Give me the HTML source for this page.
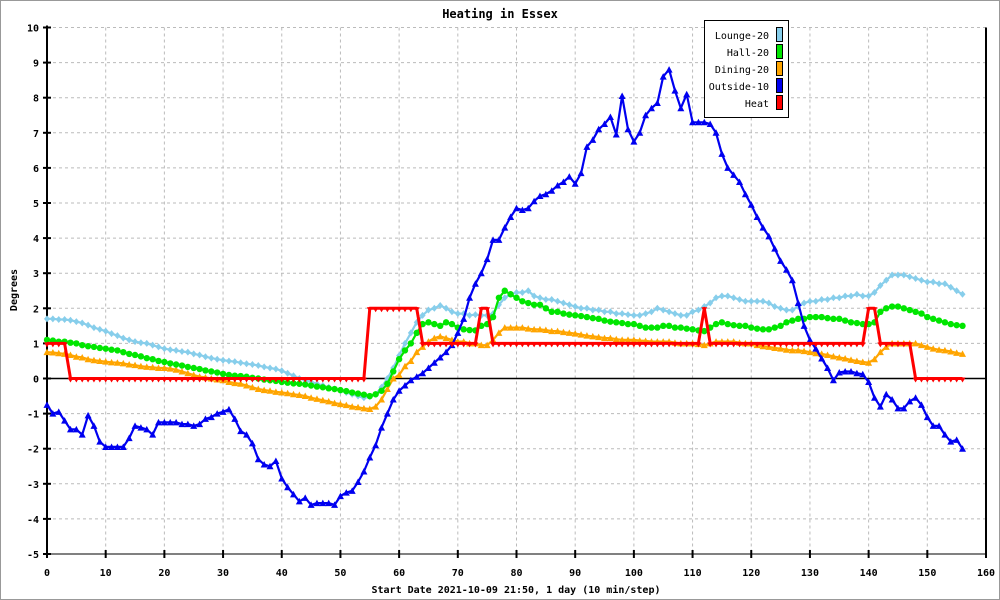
<!DOCTYPE html>
<html><head><meta charset="utf-8"><style>
html,body{margin:0;padding:0;background:#fff}
svg{display:block}
text{font-family:"DejaVu Sans Mono","Liberation Mono",monospace}
</style></head><body>
<svg id="chart" width="1000" height="600" viewBox="0 0 1000 600" xmlns="http://www.w3.org/2000/svg">
<rect x="0.5" y="0.5" width="999" height="599" fill="#fff" stroke="#999"/>
<text x="500" y="18" text-anchor="middle" font-size="12" font-weight="bold">Heating in Essex</text>
<g id="grid"></g>
<g id="axes"></g>
<g id="series"></g>
<text x="17" y="290" font-size="10" font-weight="bold" text-anchor="middle" transform="rotate(-90 17 290)">Degrees</text>
<text x="516" y="593" font-size="10" font-weight="bold" text-anchor="middle">Start Date 2021-10-09 21:50, 1 day (10 min/step)</text>
<g id="legend"></g>
</svg>
<script>
const xTicks=[0,10,20,30,40,50,60,70,80,90,100,110,120,130,140,150,160];
const yTicks=[-5,-4,-3,-2,-1,0,1,2,3,4,5,6,7,8,9,10];
const seriesNames=["Lounge-20","Hall-20","Dining-20","Outside-10","Heat"];
const lounge=[1.7,1.7,1.68,1.68,1.66,1.62,1.58,1.52,1.45,1.4,
1.35,1.28,1.22,1.15,1.1,1.05,1.02,1.0,0.95,0.9,
0.85,0.82,0.8,0.77,0.75,0.7,0.67,0.62,0.58,0.55,
0.52,0.5,0.48,0.45,0.42,0.4,0.37,0.33,0.3,0.27,
0.22,0.15,0.08,0.0,-0.05,-0.1,-0.15,-0.2,-0.25,-0.3,
-0.35,-0.4,-0.45,-0.5,-0.55,-0.52,-0.45,-0.25,0.0,0.3,
0.65,1.0,1.3,1.6,1.8,1.95,2.0,2.08,2.0,1.9,
1.85,1.85,1.8,1.82,1.8,1.8,1.85,2.1,2.3,2.4,
2.45,2.45,2.5,2.35,2.3,2.25,2.25,2.2,2.15,2.1,
2.05,2.0,2.0,1.95,1.95,1.9,1.9,1.85,1.85,1.82,
1.8,1.8,1.85,1.9,2.0,1.95,1.9,1.85,1.8,1.8,
1.9,1.95,2.05,2.15,2.3,2.35,2.35,2.3,2.25,2.2,
2.2,2.2,2.2,2.15,2.05,2.0,1.95,1.95,2.05,2.15,
2.2,2.2,2.25,2.25,2.3,2.3,2.35,2.35,2.4,2.35,
2.35,2.45,2.65,2.8,2.95,2.95,2.95,2.9,2.85,2.8,
2.75,2.75,2.7,2.7,2.6,2.5,2.4];
const hall=[1.1,1.08,1.05,1.05,1.02,1.0,0.95,0.92,0.9,0.87,
0.85,0.82,0.8,0.75,0.7,0.67,0.63,0.58,0.55,0.5,
0.47,0.43,0.4,0.37,0.33,0.3,0.27,0.23,0.2,0.17,
0.13,0.1,0.08,0.07,0.05,0.02,0.0,-0.03,-0.05,-0.07,
-0.1,-0.12,-0.14,-0.15,-0.17,-0.2,-0.23,-0.25,-0.28,-0.3,
-0.33,-0.36,-0.4,-0.43,-0.46,-0.5,-0.45,-0.35,-0.15,0.2,
0.55,0.8,1.0,1.3,1.55,1.6,1.55,1.5,1.6,1.55,
1.45,1.4,1.38,1.37,1.5,1.55,1.75,2.3,2.5,2.4,
2.3,2.2,2.15,2.1,2.1,2.0,1.9,1.9,1.85,1.82,
1.8,1.78,1.75,1.72,1.7,1.65,1.62,1.6,1.58,1.55,
1.55,1.5,1.45,1.45,1.45,1.5,1.5,1.45,1.45,1.42,
1.4,1.37,1.35,1.45,1.55,1.6,1.55,1.52,1.5,1.5,
1.45,1.42,1.4,1.4,1.45,1.5,1.6,1.65,1.7,1.7,
1.75,1.75,1.75,1.72,1.7,1.7,1.65,1.6,1.58,1.55,
1.55,1.6,1.9,2.0,2.05,2.05,2.0,1.95,1.9,1.85,
1.75,1.7,1.65,1.6,1.55,1.52,1.5];
const dining=[0.75,0.74,0.72,0.7,0.67,0.62,0.6,0.55,0.52,0.5,
0.48,0.46,0.45,0.43,0.4,0.38,0.35,0.33,0.32,0.3,
0.3,0.28,0.25,0.2,0.15,0.1,0.05,0.03,0.0,-0.03,
-0.05,-0.1,-0.13,-0.15,-0.2,-0.25,-0.3,-0.33,-0.35,-0.38,
-0.4,-0.42,-0.45,-0.47,-0.5,-0.55,-0.58,-0.62,-0.65,-0.7,
-0.73,-0.76,-0.8,-0.82,-0.85,-0.87,-0.8,-0.6,-0.3,0.0,
0.1,0.35,0.5,0.75,0.9,1.05,1.15,1.2,1.15,1.1,
1.05,1.05,1.0,1.0,0.95,0.95,1.1,1.3,1.45,1.45,
1.45,1.45,1.42,1.4,1.4,1.38,1.35,1.35,1.32,1.3,
1.28,1.25,1.22,1.2,1.18,1.15,1.15,1.12,1.1,1.1,
1.1,1.08,1.07,1.05,1.05,1.05,1.05,1.02,1.0,1.0,
1.0,0.98,0.95,1.0,1.05,1.05,1.05,1.05,1.02,1.0,
1.0,0.95,0.92,0.9,0.87,0.85,0.82,0.8,0.8,0.78,
0.75,0.72,0.7,0.67,0.63,0.6,0.57,0.53,0.5,0.47,
0.45,0.55,0.75,0.9,1.0,1.0,1.0,1.0,1.0,0.95,
0.9,0.85,0.82,0.8,0.77,0.73,0.7];
const outside=[-0.75,-1.0,-0.95,-1.2,-1.45,-1.45,-1.6,-1.05,-1.35,-1.8,
-1.95,-1.95,-1.95,-1.95,-1.7,-1.35,-1.4,-1.45,-1.6,-1.25,
-1.25,-1.25,-1.25,-1.3,-1.3,-1.35,-1.3,-1.15,-1.1,-1.0,
-0.95,-0.88,-1.15,-1.5,-1.6,-1.85,-2.3,-2.45,-2.5,-2.35,
-2.85,-3.1,-3.3,-3.5,-3.4,-3.6,-3.55,-3.55,-3.55,-3.6,
-3.35,-3.25,-3.2,-2.95,-2.65,-2.25,-1.9,-1.4,-1.0,-0.6,
-0.35,-0.2,-0.05,0.05,0.15,0.3,0.45,0.6,0.75,0.95,
1.3,1.7,2.3,2.7,3.0,3.4,3.95,3.95,4.3,4.6,
4.85,4.8,4.85,5.05,5.2,5.25,5.35,5.5,5.6,5.75,
5.55,5.85,6.6,6.8,7.1,7.25,7.45,6.95,8.05,7.1,
6.75,7.0,7.5,7.7,7.85,8.6,8.8,8.2,7.7,8.1,
7.3,7.3,7.3,7.25,7.0,6.4,6.0,5.8,5.6,5.25,
4.95,4.6,4.3,4.05,3.7,3.35,3.1,2.8,2.15,1.5,
1.1,0.85,0.57,0.3,-0.05,0.17,0.2,0.2,0.15,0.12,
-0.1,-0.55,-0.8,-0.45,-0.6,-0.85,-0.85,-0.65,-0.55,-0.75,
-1.1,-1.35,-1.35,-1.6,-1.8,-1.75,-2.0];
const heat=[1,1,1,1,0,0,0,0,0,0,
0,0,0,0,0,0,0,0,0,0,
0,0,0,0,0,0,0,0,0,0,
0,0,0,0,0,0,0,0,0,0,
0,0,0,0,0,0,0,0,0,0,
0,0,0,0,0,2,2,2,2,2,
2,2,2,2,1,1,1,1,1,1,
1,1,1,1,2,2,1,1,1,1,
1,1,1,1,1,1,1,1,1,1,
1,1,1,1,1,1,1,1,1,1,
1,1,1,1,1,1,1,1,1,1,
1,1,2,1,1,1,1,1,1,1,
1,1,1,1,1,1,1,1,1,1,
1,1,1,1,1,1,1,1,1,1,
2,2,1,1,1,1,1,1,0,0,
0,0,0,0,0,0,0];

const NS="http://www.w3.org/2000/svg";
const X0=47,X1=986,Y0=554,Y1=27.5;
const xs=v=>X0+(v-0)/(160-0)*(X1-X0);
const ys=v=>Y0-(v+5)/(15)*(Y0-Y1);
function mk(tag,attrs,parent){const e=document.createElementNS(NS,tag);for(const k in attrs)e.setAttribute(k,attrs[k]);parent.appendChild(e);return e;}
const grid=document.getElementById('grid'),axes=document.getElementById('axes'),ser=document.getElementById('series'),leg=document.getElementById('legend');
mk('rect',{x:X0,y:Y1,width:X1-X0,height:Y0-Y1,fill:'#fff'},grid);
xTicks.forEach(t=>{
 const x=xs(t);
 if(t>0&&t<160){const g=mk('line',{x1:x,x2:x,y1:Y1,y2:Y0,stroke:'#bbb','stroke-dasharray':'3,3'},grid);
 
 }
 const tk=mk('line',{x1:x,x2:x,y1:Y0-4,y2:Y0+4,stroke:'#000','stroke-width':2},axes);
 
 
 const tx=mk('text',{x:x,y:Y0+22,'font-size':10,'font-weight':'bold','text-anchor':'middle'},axes);tx.textContent=t;
 
 
});
yTicks.forEach(t=>{
 const y=ys(t);
 if(t!==0&&t!==-5){const g=mk('line',{x1:X0,x2:X1,y1:y,y2:y,stroke:'#bbb','stroke-dasharray':'3,3'},grid);
 
 }
 const tk=mk('line',{x1:X0-4,x2:X0+4,y1:y,y2:y,stroke:'#000','stroke-width':2},axes);
 
 
 const tx=mk('text',{x:X0-8,y:y+4,'font-size':10,'font-weight':'bold','text-anchor':'end'},axes);tx.textContent=t;
 
 
});
const zl=mk('line',{x1:X0,x2:X1,y1:ys(0),y2:ys(0),stroke:'#000','stroke-width':1.5},axes);


mk('line',{x1:X0,x2:X0,y1:Y1-2,y2:Y0,stroke:'#000','stroke-width':2},axes);
mk('line',{x1:X1,x2:X1,y1:Y1,y2:Y0,stroke:'#000','stroke-width':2},axes);
mk('line',{x1:X0,x2:X1,y1:Y0,y2:Y0,stroke:'#000','stroke-width':1},axes);

const defs=[{d:lounge,c:'#87ceeb',m:'diamond',n:'lounge'},{d:dining,c:'#ffa500',m:'tri',n:'dining'},{d:hall,c:'#00e600',m:'circle',n:'hall'},{d:outside,c:'#0000f0',m:'tri',n:'outside'},{d:heat,c:'#ff0000',m:'itri',n:'heat'}];
defs.forEach(s=>{
 const g=mk('g',{},ser);
 
 
 const pts=s.d.map((v,i)=>xs(i).toFixed(1)+','+ys(v).toFixed(1)).join(' ');
 const pl=mk('polyline',{points:pts,fill:'none',stroke:s.c,'stroke-width':s.n==='heat'?3:2.2,'stroke-linejoin':'round'},g);
 
 
 s.d.forEach((v,i)=>{
  const x=xs(i),y=ys(v);let e;
  if(s.m==='circle')e=mk('circle',{cx:x,cy:y,r:3.2,fill:s.c},g);
  else if(s.m==='tri')e=mk('polygon',{points:`${x},${y-3.5} ${x-3.5},${y+3} ${x+3.5},${y+3}`,fill:s.c},g);
  else if(s.m==='itri')e=mk('polygon',{points:`${x-3},${y-1} ${x+3},${y-1} ${x},${y+4}`,fill:s.c},g);
  else e=mk('polygon',{points:`${x},${y-3.5} ${x+3},${y} ${x},${y+3.5} ${x-3},${y}`,fill:s.c},g);
  
  
 });
});
mk('rect',{x:704.5,y:20.5,width:84,height:97,fill:'#fff',stroke:'#000'},leg);
const legCols=['#87ceeb','#00e600','#ffa500','#0000f0','#ff0000'];
seriesNames.forEach((n,i)=>{
 const y=35+i*17;
 const t=mk('text',{x:769,y:y+4,'font-size':10,'text-anchor':'end'},leg);t.textContent=n;
 
 
 const r=mk('rect',{x:776.5,y:y-7.5,width:6,height:14,fill:legCols[i],stroke:'#000'},leg);
 
 
});
</script>
</body></html>
